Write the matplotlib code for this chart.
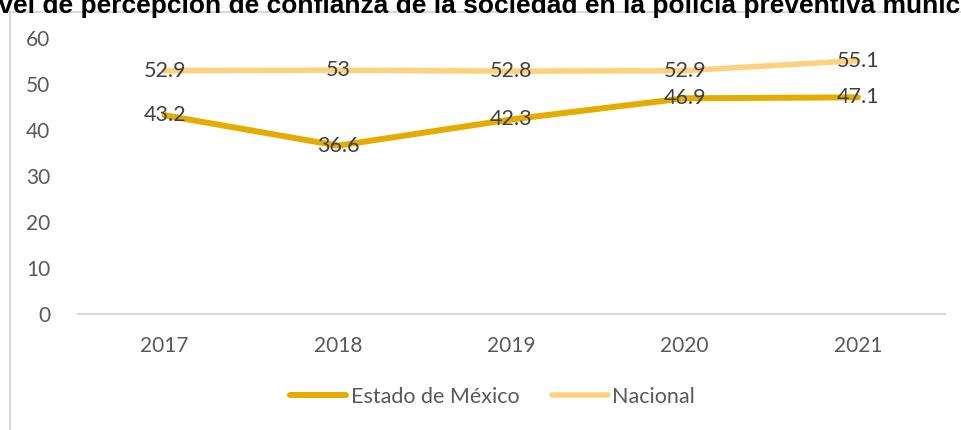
import matplotlib.pyplot as plt
from matplotlib.lines import Line2D

plt.rcParams['font.family'] = ['Lato', 'DejaVu Sans']

years = ['2017', '2018', '2019', '2020', '2021']
estado = [43.2, 36.6, 42.3, 46.9, 47.1]
nacional = [52.9, 53.0, 52.8, 52.9, 55.1]
estado_labels = ['43.2', '36.6', '42.3', '46.9', '47.1']
nacional_labels = ['52.9', '53', '52.8', '52.9', '55.1']

col_estado = '#E5AC00'
col_nacional = '#FFD17F'

fig = plt.figure(figsize=(9.61, 4.30), dpi=100)
ax = fig.add_axes([0.0812, 0.2698, 0.9018, 0.6418])

x = range(len(years))
ax.plot(x, estado, color=col_estado, lw=4.3, solid_capstyle='round', zorder=3)
ax.plot(x, nacional, color=col_nacional, lw=4.0, solid_capstyle='round', zorder=2)

for xi, v, t in zip(x, estado, estado_labels):
    ax.text(xi, v, t, ha='center', va='center', fontsize=15.5, color='#404040', zorder=5)
for xi, v, t in zip(x, nacional, nacional_labels):
    ax.text(xi, v, t, ha='center', va='center', fontsize=15.5, color='#404040', zorder=5)

ax.set_xlim(-0.5, len(years) - 0.5)
ax.set_ylim(0, 60)
ax.set_yticks(range(0, 61, 10))
ax.set_xticks(list(x))
ax.set_xticklabels(years)
ax.tick_params(axis='both', length=0, labelsize=15, labelcolor='#595959')
ax.tick_params(axis='y', pad=20)
ax.tick_params(axis='x', pad=16)
for s in ['top', 'right', 'left']:
    ax.spines[s].set_visible(False)
ax.spines['bottom'].set_color('#D9D9D9')
ax.spines['bottom'].set_linewidth(1.5)

# chart frame, only partly in view
fig.add_artist(Line2D([10 / 961, 10 / 961], [0, 1 - 12 / 430],
                      transform=fig.transFigure, color='#D9D9D9', lw=1.5))
fig.add_artist(Line2D([10 / 961, 1], [1 - 12 / 430, 1 - 12 / 430],
                      transform=fig.transFigure, color='#D9D9D9', lw=1.5))

fig.text(0.509, 1 - 13 / 430,
         'Nivel de percepción de confianza de la sociedad en la policía preventiva municipal',
         ha='center', va='baseline', fontsize=19, fontweight='bold',
         family='Liberation Sans', color='black', zorder=10)

handles = [Line2D([], [], color=col_estado, lw=4.3, solid_capstyle='round'),
           Line2D([], [], color=col_nacional, lw=4.0, solid_capstyle='round')]
fig.legend(handles, ['Estado de México', 'Nacional'], loc='center',
           bbox_to_anchor=(0.5125, 1 - 397 / 430), ncol=2, frameon=False,
           fontsize=15.5, labelcolor='#595959', handlelength=2.6,
           handletextpad=0.2, columnspacing=1.5)

fig.savefig('out.png', dpi=100)
